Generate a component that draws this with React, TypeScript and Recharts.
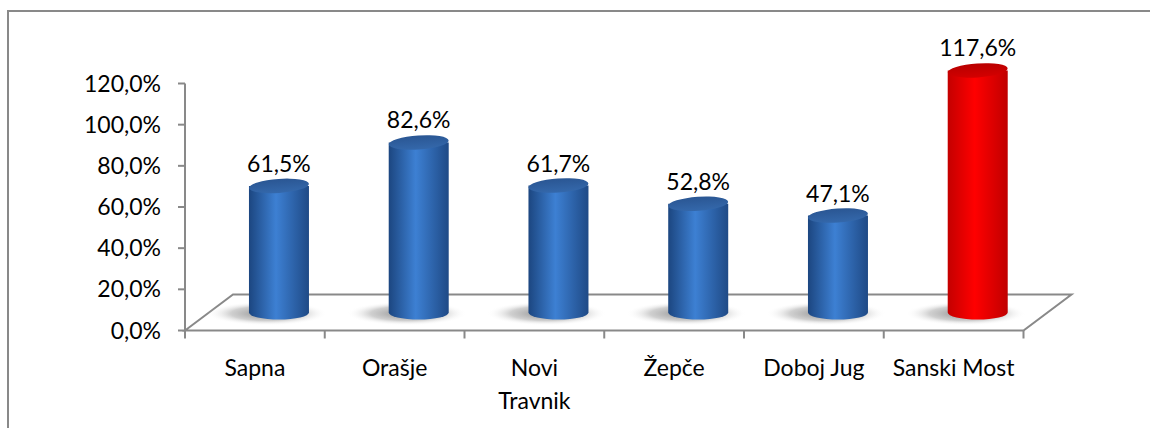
import React from "react";
import { BarChart, Bar, XAxis, YAxis, LabelList } from "recharts";

const categories = ["Sapna", "Orašje", "Novi\nTravnik", "Žepče", "Doboj Jug", "Sanski Most"];
const values = [61.5, 82.6, 61.7, 52.8, 47.1, 117.6];
const yTicks = [0, 20, 40, 60, 80, 100, 120];
const highlighted = "Sanski Most";

const W = 1150;
const H = 428;
const FONT = "Lato, 'Open Sans', sans-serif";
const AXIS = "#898989";

// plot box (front plane of the 3D floor)
const PLOT_LEFT = 185;
const PLOT_RIGHT = 1023.5;
const PLOT_TOP = 83.5;
const PLOT_BOTTOM = 330.5;
const Y_AXIS_W = 100;
const X_AXIS_H = 60;

// depth of the floor, bars sit half way back
const DEPTH_X = 48;
const DEPTH_Y = 36;
const BAR_DX = DEPTH_X / 2;
const BAR_DY = DEPTH_Y / 2;
const RY = 7;

const data = categories.map((name, i) => ({ name, value: values[i] }));

function fmt(v: number) {
  return `${v.toFixed(1).replace(".", ",")}%`;
}

function Cylinder(props: any) {
  const { x, y, width, height, payload } = props;
  if (width == null || height == null) return null;
  const red = payload.name === highlighted;
  const left = x + BAR_DX;
  const cx = left + width / 2;
  const top = y - BAR_DY;
  const base = y + height - BAR_DY;
  const rx = width / 2;
  return (
    <g>
      <ellipse cx={cx - 12} cy={base + 1} rx={rx + 30} ry={12} fill="url(#shadowGrad)" />
      <path
        d={`M${left},${top} L${left},${base} A${rx},${RY} 0 0 0 ${left + width},${base} L${left + width},${top} Z`}
        fill={red ? "url(#redBody)" : "url(#blueBody)"}
      />
      <ellipse
        cx={cx}
        cy={top}
        rx={rx}
        ry={RY}
        transform={`rotate(-4 ${cx} ${top})`}
        fill={red ? "url(#redTop)" : "url(#blueTop)"}
      />
    </g>
  );
}

function ValueLabel(props: any) {
  const { x, y, width, value } = props;
  return (
    <text
      x={x + width / 2 + BAR_DX}
      y={y - BAR_DY - RY - 7}
      textAnchor="middle"
      fontSize={23}
      fontFamily={FONT}
      fill="#000"
    >
      {fmt(value)}
    </text>
  );
}

function CategoryTick(props: any) {
  const { x, y, payload } = props;
  const lines = String(payload.value).split("\n");
  return (
    <text x={x} y={y + 43} textAnchor="middle" fontSize={23} fontFamily={FONT} fill="#000">
      {lines.map((l, i) => (
        <tspan key={i} x={x} dy={i === 0 ? 0 : 33}>
          {l}
        </tspan>
      ))}
    </text>
  );
}

function Floor() {
  const band = (PLOT_RIGHT - PLOT_LEFT) / categories.length;
  const ticks = Array.from({ length: categories.length + 1 }, (_, i) => PLOT_LEFT + i * band);
  const backY = PLOT_BOTTOM - DEPTH_Y;
  return (
    <svg width={W} height={H} style={{ position: "absolute", left: 0, top: 0 }}>
      <defs>
        <linearGradient id="blueBody" x1="0" y1="0" x2="1" y2="0">
          <stop offset="0%" stopColor="#1c4680" />
          <stop offset="45%" stopColor="#3d80d3" />
          <stop offset="100%" stopColor="#1f4a86" />
        </linearGradient>
        <linearGradient id="blueTop" x1="0" y1="0" x2="0" y2="1">
          <stop offset="0%" stopColor="#2a5693" />
          <stop offset="100%" stopColor="#3468ab" />
        </linearGradient>
        <linearGradient id="redBody" x1="0" y1="0" x2="1" y2="0">
          <stop offset="0%" stopColor="#c40000" />
          <stop offset="45%" stopColor="#ff0000" />
          <stop offset="100%" stopColor="#c00000" />
        </linearGradient>
        <linearGradient id="redTop" x1="0" y1="0" x2="0" y2="1">
          <stop offset="0%" stopColor="#b80000" />
          <stop offset="100%" stopColor="#d40000" />
        </linearGradient>
        <radialGradient id="shadowGrad" cx="0.5" cy="0.5" r="0.5">
          <stop offset="0%" stopColor="#7a7a7a" stopOpacity={0.9} />
          <stop offset="60%" stopColor="#a0a0a0" stopOpacity={0.5} />
          <stop offset="100%" stopColor="#ffffff" stopOpacity={0} />
        </radialGradient>
      </defs>
      <g stroke={AXIS} strokeWidth={2} fill="none">
        <path
          d={`M${PLOT_LEFT},${PLOT_BOTTOM} L${PLOT_LEFT + DEPTH_X},${backY} L${PLOT_RIGHT + DEPTH_X},${backY} L${PLOT_RIGHT},${PLOT_BOTTOM} Z`}
        />
        {ticks.map((t, i) => (
          <line key={i} x1={t} y1={PLOT_BOTTOM} x2={t} y2={PLOT_BOTTOM + 8} />
        ))}
      </g>
    </svg>
  );
}

export default function App() {
  return (
    <div
      style={{
        position: "fixed",
        left: 0,
        top: 0,
        width: W,
        height: H,
        background: "#fff",
        fontFamily: FONT,
        overflow: "hidden",
      }}
    >
      <div
        style={{
          position: "absolute",
          left: 7,
          top: 10,
          width: W,
          height: H,
          borderTop: `2px solid ${AXIS}`,
          borderLeft: `2px solid ${AXIS}`,
        }}
      />
      <Floor />
      <div style={{ position: "absolute", left: 0, top: 0 }}>
        <BarChart
          width={W}
          height={H}
          data={data}
          barCategoryGap="28.6%"
          margin={{
            top: PLOT_TOP,
            right: W - PLOT_RIGHT,
            bottom: H - PLOT_BOTTOM - X_AXIS_H,
            left: PLOT_LEFT - Y_AXIS_W,
          }}
        >
          <XAxis
            dataKey="name"
            height={X_AXIS_H}
            axisLine={false}
            tickLine={false}
            tickSize={0}
            interval={0}
            tick={<CategoryTick />}
          />
          <YAxis
            width={Y_AXIS_W}
            domain={[0, 120]}
            ticks={yTicks}
            tickFormatter={(v: number) => fmt(v)}
            axisLine={{ stroke: AXIS, strokeWidth: 2 }}
            tickLine={{ stroke: AXIS, strokeWidth: 2 }}
            tickSize={7}
            tickMargin={17}
            tick={{ fill: "#000", fontSize: 23, fontFamily: FONT }}
          />
          <Bar dataKey="value" shape={<Cylinder />} isAnimationActive={false}>
            <LabelList dataKey="value" content={<ValueLabel />} />
          </Bar>
        </BarChart>
      </div>
    </div>
  );
}
